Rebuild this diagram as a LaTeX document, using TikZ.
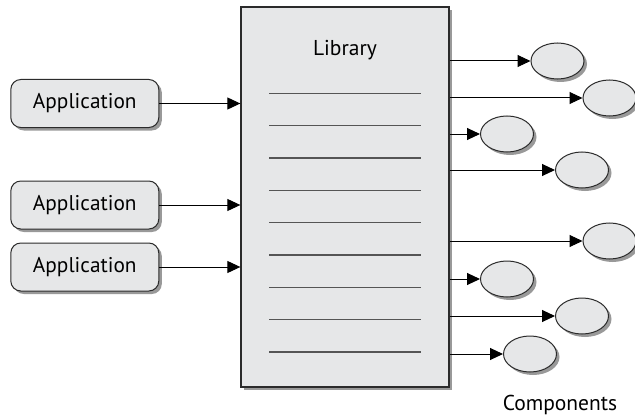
\documentclass[tikz,border=0pt]{standalone}
\usepackage{fontspec}
\setmainfont{PT Sans}
\usetikzlibrary{arrows.meta,shadows,shapes.geometric}
\definecolor{boxfill}{HTML}{E6E7E8}
\definecolor{edge}{HTML}{2B2B2B}
\begin{document}
\begin{tikzpicture}[x=1pt,y=-1pt,
  shadowed/.style={drop shadow={shadow xshift=3pt,shadow yshift=-3pt,fill=black!40,opacity=1}},
  libbox/.style={draw=edge,line width=1.3pt,fill=boxfill,shadowed,minimum width=208pt,minimum height=380pt,inner sep=0pt},
  appbox/.style={draw=edge,line width=1pt,fill=boxfill,rounded corners=10pt,shadowed,minimum width=148pt,minimum height=48pt,font=\fontsize{21.3}{24}\selectfont},
  comp/.style={ellipse,draw=edge,line width=1pt,fill=boxfill,shadowed,minimum width=53pt,minimum height=36pt,inner sep=0pt},
  libline/.style={draw=edge!80,line width=1.3pt},
  conn/.style={draw=black,line width=1pt,-{Triangle[length=13pt,width=12pt]}},
  lbl/.style={font=\fontsize{21.5}{24}\selectfont}
]
\useasboundingbox (0,0) rectangle (635,420);
\node[libbox] (lib) at (345,197) {};
\node[lbl] (libtxt) at (345,50) {Library};
\foreach \y in {93.3,125.7,158,190.3,222.7,255,287.3,319.7,352}
  \draw[libline] (269,\y) -- (421,\y);
\node[appbox] (a1) at (84.8,103.5) {Application};
\node[appbox] (a2) at (84.8,205) {Application};
\node[appbox] (a3) at (84.8,267) {Application};
\foreach \a in {a1,a2,a3}
  \draw[conn] (\a.east) -- (lib.west |- \a.east);
\foreach \n/\x/\y in {c1/557.5/61,c2/609.5/98,c3/507/134,c4/582/170,c5/609.5/241,c6/507/279,c7/582/316,c8/530/354}{
  \node[comp] (\n) at (\x,\y) {};
  \draw[conn] (lib.east |- \n.west) -- (\n.west);
}
\node[lbl] (comps) at (560,405) {Components};
\end{tikzpicture}
\end{document}
